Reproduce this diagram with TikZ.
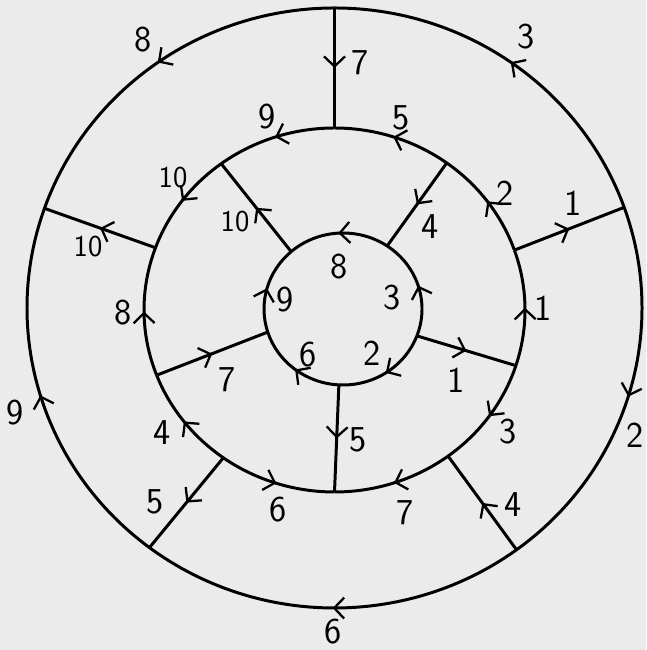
\documentclass[tikz,border=0pt]{standalone}
\usepackage{tikz}
\usetikzlibrary{arrows.meta, calc, decorations.markings}

\begin{document}
\begin{tikzpicture}[
        edge/.style={line width=1.7pt, line join=round, postaction={decorate},
            decoration={markings, mark=at position 0.5 with {\arrow{Straight Barb[length=2mm, width=4.2mm, line width=1.3pt]}}}},
        num/.style={font=\huge\sffamily, inner sep=1pt},
        small num/.style={font=\LARGE\sffamily, inner sep=1pt}
    ]
    \fill[black!8] (0,0) rectangle (12.92,13);
    \useasboundingbox (0,0) rectangle (12.92,13);

    % centres of the three rings
    \coordinate (co) at (6.69,6.84);
    \coordinate (cm) at (6.69,6.80);
    \coordinate (ci) at (6.86,6.82);

    % outer ring
    \coordinate (o1) at ($(co)+(90:6.15 and 6.0)$);
    \coordinate (o2) at ($(co)+(160.6:6.15 and 6.0)$);
    \coordinate (o3) at ($(co)+(233:6.15 and 6.0)$);
    \coordinate (o4) at ($(co)+(306.3:6.15 and 6.0)$);
    \coordinate (o5) at ($(co)+(19.6:6.15 and 6.0)$);

    % middle ring
    \coordinate (m1) at ($(cm)+(90:3.81 and 3.64)$);
    \coordinate (m2) at ($(cm)+(126.5:3.81 and 3.64)$);
    \coordinate (m3) at ($(cm)+(160:3.81 and 3.64)$);
    \coordinate (m4) at ($(cm)+(201:3.81 and 3.64)$);
    \coordinate (m5) at ($(cm)+(234.3:3.81 and 3.64)$);
    \coordinate (m6) at ($(cm)+(270:3.81 and 3.64)$);
    \coordinate (m7) at ($(cm)+(306.6:3.81 and 3.64)$);
    \coordinate (m8) at ($(cm)+(342.2:3.81 and 3.64)$);
    \coordinate (m9) at ($(cm)+(19.2:3.81 and 3.64)$);
    \coordinate (m10) at ($(cm)+(53.9:3.81 and 3.64)$);

    % inner ring
    \coordinate (i1) at ($(ci)+(56:1.58 and 1.52)$);
    \coordinate (i2) at ($(ci)+(131:1.58 and 1.52)$);
    \coordinate (i3) at ($(ci)+(197.7:1.58 and 1.52)$);
    \coordinate (i4) at ($(ci)+(267:1.58 and 1.52)$);
    \coordinate (i5) at ($(ci)+(339.3:1.58 and 1.52)$);

    \draw[edge] (o1) arc[start angle=90, end angle=160.6, x radius=6.15, y radius=6.0];
    \draw[edge] (o3) arc[start angle=233, end angle=160.6, x radius=6.15, y radius=6.0];
    \draw[edge] (o4) arc[start angle=306.3, end angle=233, x radius=6.15, y radius=6.0];
    \draw[edge] (o5) arc[start angle=19.6, end angle=-53.7, x radius=6.15, y radius=6.0];
    \draw[edge] (o5) arc[start angle=19.6, end angle=90, x radius=6.15, y radius=6.0];

    \draw[edge] (m1) arc[start angle=90, end angle=126.5, x radius=3.81, y radius=3.64];
    \draw[edge] (m2) arc[start angle=126.5, end angle=160, x radius=3.81, y radius=3.64];
    \draw[edge] (m4) arc[start angle=201, end angle=160, x radius=3.81, y radius=3.64];
    \draw[edge] (m5) arc[start angle=234.3, end angle=201, x radius=3.81, y radius=3.64];
    \draw[edge] (m5) arc[start angle=234.3, end angle=270, x radius=3.81, y radius=3.64];
    \draw[edge] (m7) arc[start angle=306.6, end angle=270, x radius=3.81, y radius=3.64];
    \draw[edge] (m8) arc[start angle=342.2, end angle=306.6, x radius=3.81, y radius=3.64];
    \draw[edge] (m8) arc[start angle=342.2, end angle=379.2, x radius=3.81, y radius=3.64];
    \draw[edge] (m9) arc[start angle=19.2, end angle=53.9, x radius=3.81, y radius=3.64];
    \draw[edge] (m10) arc[start angle=53.9, end angle=90, x radius=3.81, y radius=3.64];

    \draw[edge] (i1) arc[start angle=56, end angle=131, x radius=1.58, y radius=1.52];
    \draw[edge] (i3) arc[start angle=197.7, end angle=131, x radius=1.58, y radius=1.52];
    \draw[edge] (i4) arc[start angle=267, end angle=197.7, x radius=1.58, y radius=1.52];
    \draw[edge] (i5) arc[start angle=339.3, end angle=267, x radius=1.58, y radius=1.52];
    \draw[edge] (i5) arc[start angle=339.3, end angle=416, x radius=1.58, y radius=1.52];

    % spokes
    \draw[edge] (m9) -- (o5);
    \draw[edge] (o1) -- (m1);
    \draw[edge] (m10) -- (i1);
    \draw[edge] (i2) -- (m2);
    \draw[edge] (m3) -- (o2);
    \draw[edge] (m4) -- (i3);
    \draw[edge] (i4) -- (m6);
    \draw[edge] (i5) -- (m8);
    \draw[edge] (o4) -- (m7);
    \draw[edge] (m5) -- (o3);

    % labels, outer ring
    \node[num] (lo8) at (2.86,12.20) {8};
    \node[num] (lo9) at (0.30,4.74) {9};
    \node[num] (lo6) at (6.66,0.36) {6};
    \node[num] (lo2) at (12.70,4.30) {2};
    \node[num] (lo3) at (10.52,12.26) {3};

    % labels, middle ring
    \node[num] (lm9) at (5.34,10.66) {9};
    \node[small num] (lm10) at (3.46,9.44) {10};
    \node[num] (lm8) at (2.46,6.74) {8};
    \node[num] (lm4) at (3.24,4.34) {4};
    \node[num] (lm6) at (5.56,2.80) {6};
    \node[num] (lm7) at (8.10,2.74) {7};
    \node[num] (lm3) at (10.16,4.36) {3};
    \node[num] (lm1) at (10.86,6.84) {1};
    \node[num] (lm2) at (10.10,9.14) {2};
    \node[num] (lm5) at (8.02,10.64) {5};

    % labels, inner ring
    \node[num] (li8) at (6.78,7.66) {8};
    \node[num] (li9) at (5.70,7.00) {9};
    \node[num] (li6) at (6.16,5.90) {6};
    \node[num] (li2) at (7.44,5.94) {2};
    \node[num] (li3) at (7.84,7.04) {3};

    % labels, spokes
    \node[num] (ls1) at (11.46,8.94) {1};
    \node[num] (ls7) at (7.20,11.74) {7};
    \node[num] (ls4) at (8.60,8.46) {4};
    \node[small num] (ls10) at (4.70,8.56) {10};
    \node[small num] (ls10b) at (1.76,8.06) {10};
    \node[num] (ls7b) at (4.54,5.40) {7};
    \node[num] (ls5) at (7.16,4.20) {5};
    \node[num] (ls1b) at (9.12,5.40) {1};
    \node[num] (ls4b) at (10.26,2.90) {4};
    \node[num] (ls5b) at (3.10,2.96) {5};
\end{tikzpicture}
\end{document}
